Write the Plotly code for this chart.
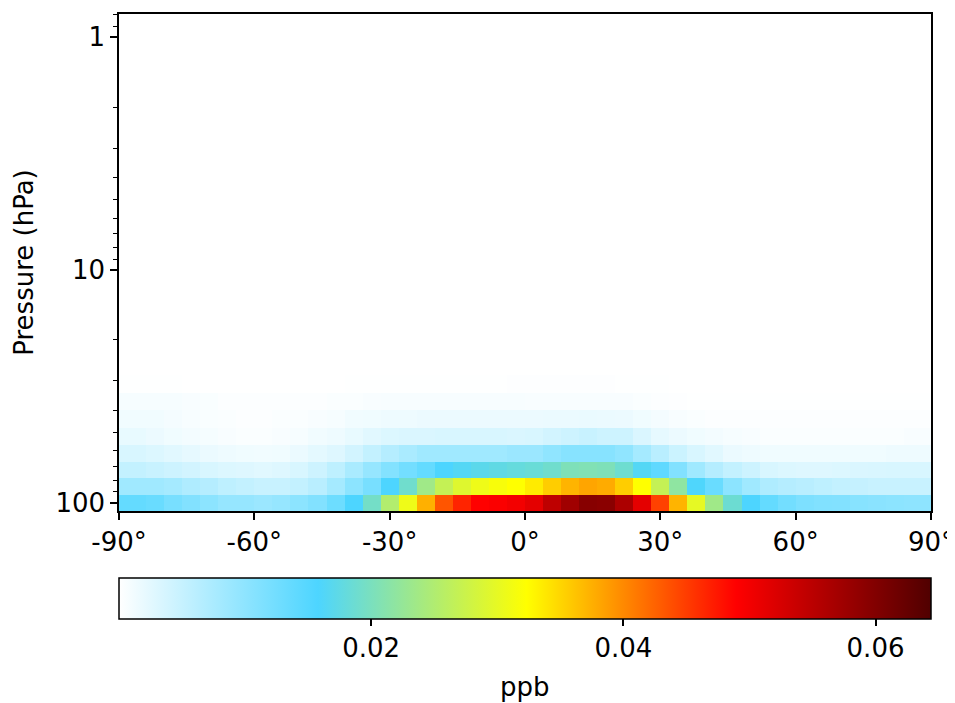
import math
import plotly.graph_objects as go

# Latitude cell edges (degrees) - 4x5 style grid
lat_edges = [-90, -88, -84, -80, -76, -72, -68, -64, -60, -56, -52, -48, -44, -40, -36, -32,
             -28, -24, -20, -16, -12, -8, -4, 0, 4, 8, 12, 16, 20, 24, 28, 32, 36, 40, 44,
             48, 52, 56, 60, 64, 68, 72, 76, 80, 84, 88, 90]

# Pressure level edges (hPa), bottom to top
p_edges = [108.663, 92.36572, 78.51231, 66.60341, 56.38791, 47.64391, 40.17541, 33.81001,
           28.36781, 23.73041, 19.7916, 16.4571, 13.6434, 11.2769, 9.292942, 7.619842,
           6.216801, 5.046801, 4.076571, 3.276431, 2.620211, 2.08497, 1.65079, 1.30051,
           1.01944, 0.7951341]

# Concentrations (ppb) per level, 46 latitude cells each
lev0 = [0.0137, 0.0137, 0.0133, 0.0120, 0.0111, 0.0102, 0.0093, 0.0093, 0.0089, 0.0093,
        0.0102, 0.0111, 0.0129, 0.0158, 0.0194, 0.0252, 0.0308, 0.0375, 0.0434, 0.0466,
        0.0489, 0.0493, 0.0500, 0.0513, 0.0547, 0.0573, 0.0595, 0.0593, 0.0563, 0.0513,
        0.0447, 0.0372, 0.0300, 0.0235, 0.0187, 0.0158, 0.0137, 0.0124, 0.0115, 0.0112,
        0.0111, 0.0106, 0.0104, 0.0102, 0.0100, 0.0100]
lev1 = [0.0084, 0.0084, 0.0084, 0.0080, 0.0071, 0.0066, 0.0058, 0.0053, 0.0049, 0.0049,
        0.0053, 0.0062, 0.0080, 0.0102, 0.0120, 0.0158, 0.0190, 0.0235, 0.0268, 0.0293,
        0.0308, 0.0317, 0.0323, 0.0336, 0.0356, 0.0372, 0.0382, 0.0378, 0.0356, 0.0323,
        0.0268, 0.0219, 0.0160, 0.0133, 0.0102, 0.0084, 0.0071, 0.0066, 0.0062, 0.0058,
        0.0053, 0.0051, 0.0049, 0.0049, 0.0049, 0.0049]
lev2 = [0.0053, 0.0053, 0.0049, 0.0044, 0.0040, 0.0035, 0.0031, 0.0029, 0.0027, 0.0029,
        0.0035, 0.0044, 0.0058, 0.0075, 0.0093, 0.0110, 0.0124, 0.0137, 0.0158, 0.0164,
        0.0171, 0.0175, 0.0180, 0.0184, 0.0190, 0.0203, 0.0206, 0.0203, 0.0188, 0.0164,
        0.0142, 0.0111, 0.0084, 0.0066, 0.0053, 0.0044, 0.0035, 0.0031, 0.0029, 0.0029,
        0.0031, 0.0033, 0.0034, 0.0035, 0.0035, 0.0035]
lev3 = [0.0035, 0.0035, 0.0031, 0.0027, 0.0022, 0.0018, 0.0015, 0.0013, 0.0012, 0.0013,
        0.0018, 0.0024, 0.0029, 0.0040, 0.0053, 0.0066, 0.0075, 0.0084, 0.0084, 0.0084,
        0.0084, 0.0084, 0.0089, 0.0089, 0.0098, 0.0106, 0.0106, 0.0106, 0.0098, 0.0080,
        0.0062, 0.0046, 0.0035, 0.0027, 0.0018, 0.0015, 0.0013, 0.0013, 0.0013, 0.0013,
        0.0013, 0.0013, 0.0013, 0.0015, 0.0015, 0.0015]
lev4 = [0.0020, 0.0020, 0.0017, 0.0013, 0.0011, 0.0009, 0.0006, 0.0004, 0.0004, 0.0006,
        0.0008, 0.0012, 0.0015, 0.0020, 0.0027, 0.0031, 0.0033, 0.0033, 0.0035, 0.0035,
        0.0035, 0.0035, 0.0033, 0.0035, 0.0040, 0.0044, 0.0049, 0.0044, 0.0044, 0.0033,
        0.0022, 0.0017, 0.0013, 0.0011, 0.0008, 0.0006, 0.0004, 0.0004, 0.0004, 0.0004,
        0.0004, 0.0004, 0.0004, 0.0004, 0.0006, 0.0006]
lev5 = [0.0012, 0.0012, 0.0012, 0.0010, 0.0007, 0.0005, 0.0004, 0.0003, 0.0003, 0.0004,
        0.0004, 0.0006, 0.0008, 0.0012, 0.0013, 0.0015, 0.0015, 0.0017, 0.0017, 0.0017,
        0.0017, 0.0017, 0.0017, 0.0017, 0.0018, 0.0018, 0.0019, 0.0018, 0.0017, 0.0013,
        0.0010, 0.0006, 0.0004, 0.0003, 0.0003, 0.0003, 0.0003, 0.0003, 0.0003, 0.0003,
        0.0003, 0.0003, 0.0003, 0.0003, 0.0003, 0.0003]
lev6 = [0.0008, 0.0008, 0.0008, 0.0008, 0.0006, 0.0005, 0.0003, 0.0003, 0.0003, 0.0003,
        0.0003, 0.0003, 0.0004, 0.0004, 0.0006, 0.0007, 0.0007, 0.0007, 0.0007, 0.0007,
        0.0007, 0.0007, 0.0007, 0.0006, 0.0006, 0.0006, 0.0006, 0.0006, 0.0006, 0.0004,
        0.0003, 0.0002, 0.0001, 0.0001, 0.0001, 0.0001, 0.0001, 0.0001, 0.0001, 0.0001,
        0.0001, 0.0001, 0.0001, 0.0001, 0.0001, 0.0001]
lev7 = [0.0001, 0.0001, 0.0001, 0.0001, 0.0000, 0.0000, 0.0000, 0.0000, 0.0000, 0.0000,
        0.0000, 0.0000, 0.0000, 0.0001, 0.0001, 0.0001, 0.0001, 0.0001, 0.0001, 0.0001,
        0.0001, 0.0001, 0.0002, 0.0002, 0.0002, 0.0002, 0.0002, 0.0002, 0.0001, 0.0001,
        0.0001, 0.0000, 0.0000, 0.0000, 0.0000, 0.0000, 0.0000, 0.0000, 0.0000, 0.0000,
        0.0000, 0.0000, 0.0000, 0.0000, 0.0000, 0.0000]
# Levels above ~28 hPa read as zero (white)
upper_levels = [[0.0] * 46 for _ in range(17)]

z = [lev0, lev1, lev2, lev3, lev4, lev5, lev6, lev7] + upper_levels

cbar_min = 0.0
cbar_max = 0.0644
cbar_ticks = [0.02, 0.04, 0.06]
cbar_ticktext = ["0.02", "0.04", "0.06"]

x_ticks = [-90, -60, -30, 0, 30, 60, 90]
x_ticktext = ["-90°", "-60°", "-30°", "0°", "30°", "60°", "90°"]
y_ticks = [1, 10, 100]
y_ticktext = ["1", "10", "100"]
y_minor = [0.8, 0.9, 2, 3, 4, 5, 6, 7, 8, 9, 20, 30, 40, 50, 60, 70, 80, 90]

colorscale = [
    [0.0, "rgb(255,255,255)"],
    [0.245, "rgb(77,213,255)"],
    [0.502, "rgb(255,255,0)"],
    [0.76, "rgb(255,0,0)"],
    [1.0, "rgb(80,0,0)"],
]

FONT = "DejaVu Sans"
FS = 26

fig = go.Figure()
fig.add_trace(go.Heatmap(
    x=lat_edges, y=p_edges, z=z,
    zmin=cbar_min, zmax=cbar_max,
    colorscale=colorscale,
    colorbar=dict(
        orientation="h",
        x=0.5, xanchor="center",
        y=-0.134, yanchor="top", yref="paper",
        len=1.0, lenmode="fraction",
        thickness=41,
        xpad=0, ypad=0,
        outlinecolor="black", outlinewidth=1.5,
        tickvals=cbar_ticks, ticktext=cbar_ticktext,
        ticks="outside", ticklen=7, tickwidth=1.5, tickcolor="black",
        tickfont=dict(family=FONT, size=FS, color="black"),
    ),
))

fig.add_annotation(
    text="ppb", x=0.5, y=-0.355, xref="paper", yref="paper",
    xanchor="center", yanchor="middle", showarrow=False,
    font=dict(family=FONT, size=FS, color="black"),
)

fig.update_layout(
    width=955, height=703,
    margin=dict(l=111, r=32, t=4, b=200),
    paper_bgcolor="white", plot_bgcolor="white",
    font=dict(family=FONT, size=FS, color="black"),
    xaxis=dict(
        range=[-90, 90],
        tickvals=x_ticks, ticktext=x_ticktext,
        ticks="outside", ticklen=7, tickwidth=1.5, tickcolor="black",
        showline=True, linecolor="black", linewidth=1.5, mirror=True,
        showgrid=False, zeroline=False,
        tickfont=dict(family=FONT, size=FS, color="black"),
    ),
    yaxis=dict(
        type="log",
        range=[math.log10(p_edges[0]), math.log10(p_edges[-1])],
        tickvals=y_ticks, ticktext=y_ticktext,
        ticks="outside", ticklen=7, tickwidth=1.5, tickcolor="black",
        minor=dict(tickvals=y_minor, ticks="outside", ticklen=4, tickwidth=1.2,
                   tickcolor="black", showgrid=False),
        showline=True, linecolor="black", linewidth=1.5, mirror=True,
        showgrid=False, zeroline=False,
        tickfont=dict(family=FONT, size=FS, color="black"),
        title=dict(text="Pressure (hPa)", font=dict(family=FONT, size=FS, color="black"),
                   standoff=14),
    ),
)

fig.write_html("out.html")
